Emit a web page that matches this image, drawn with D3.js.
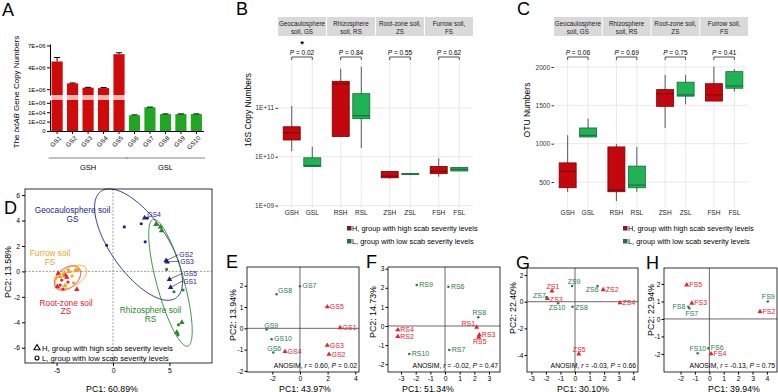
<!DOCTYPE html>
<html>
<head>
<meta charset="utf-8">
<script src="https://cdn.jsdelivr.net/npm/d3@7"></script>
<style>
  body { margin: 0; background: #fff; }
  svg { font-family: "Liberation Sans", Arial, sans-serif; }
</style>
</head>
<body>
<script>
// ---- data ----
// A: txtAB gene copies per sample
const samplesA = ['GS1', 'GS2', 'GS3', 'GS4', 'GS5', 'GS6', 'GS7', 'GS8', 'GS9', 'GS10'];
const txtabMean = [4.8e6, 1.8e6, 1.2e6, 1.15e6, 5.8e6, 2.3e3, 1.1e5, 4.0e3, 4.0e3, 4.0e3];
const txtabErr = [0.55e6, 0.05e6, 0.05e6, 0.08e6, 0.2e6, 400, 1.2e4, 400, 400, 400];

// B / C: box stats [lower whisker, Q1, median, Q3, upper whisker]
const soilGroups = ['GS', 'RS', 'ZS', 'FS'];
const levels = ['H', 'L'];
const stripLabels = [['Geocaulosphere', 'soil, GS'], ['Rhizosphere', 'soil, RS'], ['Root-zone soil,', 'ZS'], ['Furrow soil,', 'FS']];
const boxCats = ['GSH', 'GSL', 'RSH', 'RSL', 'ZSH', 'ZSL', 'FSH', 'FSL'];
const copies16S = [
  [1.3e10, 2.2e10, 3.1e10, 4.1e10, 1.1e11],
  [6.3e9, 6.3e9, 6.6e9, 9.5e9, 1.6e10],
  [2.6e10, 2.6e10, 3.1e11, 3.5e11, 6.3e11],
  [1.5e10, 6.0e10, 6.9e10, 1.95e11, 6.9e11],
  [3.55e9, 3.7e9, 4.0e9, 5.0e9, 5.0e9],
  [4.4e9, 4.4e9, 4.45e9, 4.5e9, 4.5e9],
  [3.9e9, 4.5e9, 5.0e9, 6.3e9, 9.3e9],
  [5.1e9, 5.1e9, 5.55e9, 6.0e9, 6.0e9]
];
const otuNumbers = [
  [370, 426, 640, 750, 1110],
  [1088, 1088, 1110, 1205, 1327],
  [253, 374, 396, 958, 995],
  [374, 426, 461, 708, 958],
  [1205, 1487, 1652, 1705, 1896],
  [1513, 1620, 1636, 1802, 1896],
  [1556, 1556, 1636, 1782, 2004],
  [1680, 1723, 1753, 1939, 1974]
];
const pvalB = ['0.02', '0.84', '0.55', '0.62'];
const pvalC = ['0.06', '0.69', '0.75', '0.41'];
const legendText = ['H, group with high scab severity levels', 'L, group with low scab severity levels'];

// D: PCA of all soils
const pcaD = [
  // GS
  {g: 'GS', l: 'H', x: 2.8, y: 4.2, id: 'GS4'}, {g: 'GS', l: 'H', x: 4.7, y: 0.85, id: 'GS2'},
  {g: 'GS', l: 'H', x: 4.8, y: 0.75, id: 'GS3'}, {g: 'GS', l: 'H', x: 5.0, y: -0.62, id: 'GS5'},
  {g: 'GS', l: 'H', x: 5.1, y: -1.25, id: 'GS1'},
  {g: 'GS', l: 'L', x: -0.56, y: 2.05}, {g: 'GS', l: 'L', x: 1.0, y: 3.5}, {g: 'GS', l: 'L', x: 2.5, y: 3.75},
  {g: 'GS', l: 'L', x: 2.85, y: 2.33}, {g: 'GS', l: 'L', x: 3.05, y: 4.2},
  // RS
  {g: 'RS', l: 'H', x: 3.8, y: 3.7}, {g: 'RS', l: 'H', x: 4.2, y: 3.5}, {g: 'RS', l: 'H', x: 4.3, y: 3.2},
  {g: 'RS', l: 'H', x: 6.1, y: -4.0}, {g: 'RS', l: 'H', x: 5.65, y: -4.8},
  {g: 'RS', l: 'L', x: 4.75, y: 0.16}, {g: 'RS', l: 'L', x: 5.4, y: -1.6}, {g: 'RS', l: 'L', x: 6.2, y: -1.46},
  {g: 'RS', l: 'L', x: 5.8, y: -4.2}, {g: 'RS', l: 'L', x: 5.75, y: -5.0},
  // ZS
  {g: 'ZS', l: 'H', x: -4.85, y: -0.15}, {g: 'ZS', l: 'H', x: -4.25, y: -0.28}, {g: 'ZS', l: 'H', x: -4.1, y: -0.46},
  {g: 'ZS', l: 'H', x: -4.93, y: -1.2}, {g: 'ZS', l: 'H', x: -3.21, y: -1.41},
  {g: 'ZS', l: 'L', x: -4.54, y: -0.68}, {g: 'ZS', l: 'L', x: -3.28, y: 0.11}, {g: 'ZS', l: 'L', x: -3.99, y: -0.83},
  {g: 'ZS', l: 'L', x: -4.69, y: -1.07}, {g: 'ZS', l: 'L', x: -4.43, y: -1.38},
  // FS
  {g: 'FS', l: 'H', x: -3.07, y: 0.15}, {g: 'FS', l: 'H', x: -4.25, y: -1.12}, {g: 'FS', l: 'H', x: -3.9, y: 0.0},
  {g: 'FS', l: 'H', x: -4.7, y: -0.4}, {g: 'FS', l: 'H', x: -3.3, y: 0.05},
  {g: 'FS', l: 'L', x: -3.96, y: 0.11}, {g: 'FS', l: 'L', x: -3.63, y: -0.36}, {g: 'FS', l: 'L', x: -5.05, y: -0.52},
  {g: 'FS', l: 'L', x: -4.4, y: -0.2}, {g: 'FS', l: 'L', x: -3.5, y: -0.9}
];
const ellipsesD = [
  {g: 'GS', cx: 2.26, cy: 2.11, rx: 5.36, ry: 2.37, angle: -50},
  {g: 'RS', cx: 5.09, cy: -0.89, rx: 5.21, ry: 1.2, angle: -72.7},
  {g: 'ZS', cx: -4.03, cy: -0.52, rx: 1.28, ry: 0.8, angle: 32},
  {g: 'FS', cx: -3.72, cy: -0.44, rx: 1.5, ry: 0.75, angle: 25}
];
const groupNamesD = [
  {g: 'GS', lines: ['Geocaulosphere soil', 'GS'], x: -3.59, y: 4.59},
  {g: 'FS', lines: ['Furrow soil', 'FS'], x: -5.58, y: 1.2},
  {g: 'ZS', lines: ['Root-zone soil', 'ZS'], x: -4.16, y: -2.68},
  {g: 'RS', lines: ['Rhizosphere soil', 'RS'], x: 3.32, y: -3.27}
];

// E-H: per-soil PCA
const pcaE = [
  {id: 'GS1', x: 2.9, y: 0.03}, {id: 'GS2', x: 2.1, y: -1.22}, {id: 'GS3', x: 1.98, y: -0.8},
  {id: 'GS4', x: -1.08, y: -1.09}, {id: 'GS5', x: 1.98, y: 1.01}, {id: 'GS6', x: -1.93, y: -1.13},
  {id: 'GS7', x: 0.0, y: 1.98}, {id: 'GS8', x: -1.69, y: 1.6}, {id: 'GS9', x: -2.41, y: -0.05},
  {id: 'GS10', x: -2.05, y: -0.51}
];
const pcaF = [
  {id: 'RS1', x: 2.16, y: -0.07}, {id: 'RS2', x: -3.22, y: -0.55}, {id: 'RS3', x: 2.34, y: -0.47},
  {id: 'RS4', x: -3.22, y: -0.2}, {id: 'RS5', x: 2.3, y: -0.59}, {id: 'RS6', x: 0.23, y: 2.06},
  {id: 'RS7', x: 0.29, y: -1.26}, {id: 'RS8', x: 2.27, y: 0.46}, {id: 'RS9', x: -1.93, y: 2.15},
  {id: 'RS10', x: -2.44, y: -1.47}
];
const pcaG = [
  {id: 'ZS1', x: -1.58, y: 0.8}, {id: 'ZS2', x: 1.94, y: 0.9}, {id: 'ZS3', x: -1.9, y: 0.23},
  {id: 'ZS4', x: 3.09, y: -0.08}, {id: 'ZS5', x: 0.26, y: -3.92}, {id: 'ZS6', x: 1.55, y: 1.18},
  {id: 'ZS7', x: -1.97, y: 0.33}, {id: 'ZS8', x: -0.17, y: -0.37}, {id: 'ZS9', x: -0.2, y: 1.18},
  {id: 'ZS10', x: -1.16, y: -0.12}
];
const pcaH = [
  {id: 'FS2', x: 3.52, y: 0.42}, {id: 'FS3', x: -1.22, y: 0.9}, {id: 'FS4', x: 0.12, y: -1.99},
  {id: 'FS5', x: -1.57, y: 1.94}, {id: 'FS6', x: -0.07, y: -1.67}, {id: 'FS7', x: -1.39, y: 0.61},
  {id: 'FS8', x: -1.46, y: 0.7}, {id: 'FS9', x: 4.06, y: 1.0}, {id: 'FS10', x: -0.81, y: -1.96}
];
const anosim = [['0.60', '0.02'], ['-0.02', '0.47'], ['-0.03', '0.66'], ['-0.13', '0.75']];
const pcTitles = [['43.97', '13.94'], ['51.34', '14.73'], ['30.10', '22.40'], ['39.94', '22.94']];

// ---- drawing ----
const svg = d3.select('body').append('svg').attr('width', 778).attr('height', 392);
const redA = '#cf0a0a', greenA = '#22a522';
const boxFill = {H: '#c3070e', L: '#1fb356'}, boxStroke = {H: '#7a0000', L: '#136b36'};
const legendSq = {H: '#7b1f24', L: '#2e6b4a'};
const colD = {GS: '#22228f', RS: '#2a862a', ZS: '#e8202a', FS: '#f5a31a'};
const redP = '#e8232b', greenP = '#2b7a4b';

const fmtE = d => {
  if (d <= 1) return '0';
  const e = Math.floor(Math.log10(d) + 1e-9);
  return Math.round(d / Math.pow(10, e)) + 'E+' + String(e).padStart(2, '0');
};
const plain = d => String(d);   // hyphen minus, like the original
const styleAxis = (g, size, col) => {
  g.selectAll('text').attr('font-size', size).attr('fill', col || '#000').attr('font-family', null);
  g.selectAll('line').attr('stroke', col || '#000');
  g.select('.domain').attr('stroke', col || '#000');
};
const letter = (t, x, y) => svg.append('text').attr('x', x).attr('y', y).attr('font-size', 18).text(t);

// ---------- A ----------
letter('A', 2, 16);
const xA = d3.scaleBand().domain(samplesA).range([50, 203.5]).paddingInner(0.28).paddingOuter(0.1);
const yTop = d3.scaleLinear().domain([0.2e6, 7.2e6]).range([95, 44]);
const yBot = d3.scaleLog().domain([1, 4e6]).range([131, 100]);
const gA = svg.append('g');
samplesA.forEach((s, i) => {
  const v = txtabMean[i], e = txtabErr[i], x = xA(s), w = xA.bandwidth(), c = x + w / 2;
  if (v > 1e6) {
    gA.append('rect').attr('x', x).attr('y', yTop(v)).attr('width', w).attr('height', yTop.range()[0] - yTop(v)).attr('fill', redA);
    gA.append('rect').attr('x', x).attr('y', yTop.range()[0]).attr('width', w).attr('height', yBot.range()[1] - yTop.range()[0]).attr('fill', '#f3b4b4');
    gA.append('rect').attr('x', x).attr('y', yBot.range()[1]).attr('width', w).attr('height', yBot.range()[0] - yBot.range()[1]).attr('fill', redA);
    gA.append('line').attr('x1', c).attr('x2', c).attr('y1', yTop(v)).attr('y2', yTop(v + e)).attr('stroke', '#000');
    gA.append('line').attr('x1', c - 3).attr('x2', c + 3).attr('y1', yTop(v + e)).attr('y2', yTop(v + e)).attr('stroke', '#000');
  } else {
    gA.append('rect').attr('x', x).attr('y', yBot(v)).attr('width', w).attr('height', yBot.range()[0] - yBot(v)).attr('fill', greenA);
    gA.append('line').attr('x1', c).attr('x2', c).attr('y1', yBot(v)).attr('y2', yBot(v + e)).attr('stroke', '#000');
    gA.append('line').attr('x1', c - 3).attr('x2', c + 3).attr('y1', yBot(v + e)).attr('y2', yBot(v + e)).attr('stroke', '#000');
  }
});
const axTop = gA.append('g').attr('transform', 'translate(50,0)')
  .call(d3.axisLeft(yTop).tickValues([1e6, 4e6, 7e6]).tickFormat(fmtE).tickSize(3).tickSizeOuter(0).tickPadding(1.5));
styleAxis(axTop, 6);
const axBot = gA.append('g').attr('transform', 'translate(50,0)')
  .call(d3.axisLeft(yBot).tickValues([1, 1e2, 1e4, 1e6]).tickFormat(fmtE).tickSize(3).tickSizeOuter(0).tickPadding(1.5));
styleAxis(axBot, 6);
const axXA = gA.append('g').attr('transform', 'translate(0,131)')
  .call(d3.axisBottom(xA).tickFormat('').tickSize(3).tickSizeOuter(0));
styleAxis(axXA, 6);
gA.selectAll('text.xs').data(samplesA).join('text').attr('class', 'xs')
  .attr('transform', d => `translate(${xA(d) + xA.bandwidth() / 2 + 3},137) rotate(-45)`)
  .attr('text-anchor', 'end').attr('dy', '0.35em').attr('font-size', 6.3).text(d => d);
[['GSH', 'GS1', 'GS5'], ['GSL', 'GS6', 'GS10']].forEach(([lab, a, b]) => {
  const x1 = xA(a) - 3, x2 = xA(b) + xA.bandwidth() + 3;
  gA.append('line').attr('x1', x1).attr('x2', x2).attr('y1', 158).attr('y2', 158).attr('stroke', '#666').attr('stroke-width', 0.8);
  gA.append('text').attr('x', (x1 + x2) / 2).attr('y', 170).attr('text-anchor', 'middle').attr('font-size', 7.5).text(lab);
});
gA.append('text').attr('transform', 'translate(19,92) rotate(-90)').attr('text-anchor', 'middle').attr('font-size', 8)
  .call(t => { t.append('tspan').text('The '); t.append('tspan').attr('font-style', 'italic').text('txtAB'); t.append('tspan').text(' Gene Copy Numbers'); });

// ---------- B & C ----------
function boxPanel(o) {
  const g = svg.append('g');
  const top = 60, bot = 208;
  const fx = d3.scaleBand().domain(soilGroups).range([o.x0, o.x1]).paddingInner(0.02);
  const lx = d3.scalePoint().domain(levels).range([0, fx.bandwidth()]).padding(0.667);
  const cx = c => fx(c.slice(0, 2)) + lx(c[2]);
  const y = o.y;
  g.selectAll('line.hg').data(o.ticks).join('line').attr('class', 'hg')
    .attr('x1', o.x0).attr('x2', o.x1).attr('y1', d => y(d)).attr('y2', d => y(d)).attr('stroke', '#e3e3e3').attr('stroke-width', 0.8);
  g.selectAll('line.vg').data(boxCats).join('line').attr('class', 'vg')
    .attr('x1', cx).attr('x2', cx).attr('y1', top).attr('y2', bot).attr('stroke', '#e3e3e3').attr('stroke-width', 0.8);
  soilGroups.forEach((s, i) => {
    g.append('rect').attr('x', fx(s)).attr('y', 17).attr('width', fx.bandwidth()).attr('height', 19).attr('fill', '#d9d9d9');
    stripLabels[i].forEach((t, j) => g.append('text').attr('x', fx(s) + fx.bandwidth() / 2).attr('y', 25.5 + j * 8)
      .attr('text-anchor', 'middle').attr('font-size', 6.3).attr('fill', '#1a1a1a').text(t));
    const xa = cx(s + 'H'), xb = cx(s + 'L'), xm = (xa + xb) / 2;
    g.append('path').attr('d', `M${xa},60V57H${xb}V60`).attr('fill', 'none').attr('stroke', '#222').attr('stroke-width', 0.8);
    g.append('text').attr('x', xm).attr('y', 54.5).attr('text-anchor', 'middle').attr('font-size', 6.5)
      .call(t => { t.append('tspan').attr('font-style', 'italic').text('P'); t.append('tspan').text(' = ' + o.p[i]); });
    if (o.star && o.star[i]) g.append('text').attr('x', xm).attr('y', 46.5).attr('text-anchor', 'middle').attr('font-size', 9.5).attr('font-weight', 'bold').text('*');
  });
  const bw = 17;
  boxCats.forEach((c, i) => {
    const [lo, q1, md, q3, hi] = o.data[i], x = cx(c), l = c[2];
    g.append('line').attr('x1', x).attr('x2', x).attr('y1', y(lo)).attr('y2', y(hi)).attr('stroke', '#333').attr('stroke-width', 0.8);
    g.append('rect').attr('x', x - bw / 2).attr('y', y(q3)).attr('width', bw).attr('height', Math.max(1, y(q1) - y(q3)))
      .attr('fill', boxFill[l]).attr('stroke', boxStroke[l]).attr('stroke-width', 0.8);
    g.append('line').attr('x1', x - bw / 2).attr('x2', x + bw / 2).attr('y1', y(md)).attr('y2', y(md)).attr('stroke', boxStroke[l]).attr('stroke-width', 1);
  });
  const ay = g.append('g').attr('transform', `translate(${o.x0},0)`)
    .call(d3.axisLeft(y).tickValues(o.ticks).tickFormat(o.fmt).tickSize(2.5).tickPadding(1.5));
  ay.select('.domain').remove();
  styleAxis(ay, 6.5, '#333');
  g.selectAll('text.xl').data(boxCats).join('text').attr('class', 'xl').attr('x', cx).attr('y', 214.5)
    .attr('text-anchor', 'middle').attr('font-size', 6.5).attr('fill', '#222').text(d => d);
  g.append('text').attr('transform', `translate(${o.titleX},110) rotate(-90)`).attr('text-anchor', 'middle').attr('font-size', 8.5).text(o.title);
  levels.forEach((l, j) => {
    g.append('rect').attr('x', o.legX).attr('y', 226 + j * 13).attr('width', 4.5).attr('height', 4.5).attr('fill', legendSq[l]);
    g.append('text').attr('x', o.legX + 5).attr('y', 231 + j * 13).attr('font-size', 7.4).text(legendText[j]);
  });
}
letter('B', 236, 15);
boxPanel({x0: 278, x1: 473, y: d3.scaleLog().domain([Math.pow(10, 8.95), Math.pow(10, 11.98)]).range([208, 60]),
  ticks: [1e9, 1e10, 1e11], fmt: fmtE, data: copies16S, p: pvalB, star: [true, false, false, false],
  title: '16S Copy Numbers', titleX: 251, legX: 347});
letter('C', 517, 15);
boxPanel({x0: 554, x1: 748, y: d3.scaleLinear().domain([162, 2091]).range([208, 60]),
  ticks: [500, 1000, 1500, 2000], fmt: d3.format('d'), data: otuNumbers, p: pvalC,
  title: 'OTU Numbers', titleX: 530, legX: 623});

// ---------- D ----------
letter('D', 4, 214);
const xD = d3.scaleLinear().domain([-7.8, 8.77]).range([25, 212]);
const yD = d3.scaleLinear().domain([-7.2, 6.48]).range([363, 189]);
const gD = svg.append('g');
gD.append('line').attr('x1', xD(0)).attr('x2', xD(0)).attr('y1', 189).attr('y2', 363).attr('stroke', '#777').attr('stroke-width', 0.7).attr('stroke-dasharray', '2,1.5');
gD.append('line').attr('x1', 25).attr('x2', 212).attr('y1', yD(0)).attr('y2', yD(0)).attr('stroke', '#777').attr('stroke-width', 0.7).attr('stroke-dasharray', '2,1.5');
const ellipsePts = e => d3.range(0, 2 * Math.PI + 0.02, Math.PI / 72).map(t => {
  const a = e.angle * Math.PI / 180;
  return [xD(e.cx + e.rx * Math.cos(t) * Math.cos(a) - e.ry * Math.sin(t) * Math.sin(a)),
          yD(e.cy + e.rx * Math.cos(t) * Math.sin(a) + e.ry * Math.sin(t) * Math.cos(a))];
});
gD.selectAll('path.ell').data(ellipsesD).join('path').attr('class', 'ell')
  .attr('d', d => d3.line()(ellipsePts(d))).attr('fill', 'none').attr('stroke', d => colD[d.g]).attr('stroke-width', 0.9);
const tri = d3.symbol(d3.symbolTriangle, 13), dot = d3.symbol(d3.symbolCircle, 8);
gD.selectAll('path.pt').data(pcaD).join('path').attr('class', 'pt')
  .attr('transform', d => `translate(${xD(d.x)},${yD(d.y)})`).attr('d', d => (d.l === 'H' ? tri : dot)())
  .attr('fill', d => colD[d.g]);
const gsLab = {GS4: [2.6, -1, false], GS2: [13.3, -3.4, true], GS3: [13, 1.8, true], GS5: [14, -3.5, true], GS1: [12.6, -3.6, true]};
pcaD.filter(d => d.id).forEach(d => {
  const [dx, dy, lead] = gsLab[d.id], px = xD(d.x), py = yD(d.y);
  if (lead) gD.append('line').attr('x1', px).attr('y1', py).attr('x2', px + dx - 1).attr('y2', py + dy - 2.5).attr('stroke', '#111').attr('stroke-width', 0.6);
  gD.append('text').attr('x', px + dx).attr('y', py + dy).attr('font-size', 6.8).attr('fill', colD.GS).text(d.id);
});
groupNamesD.forEach(n => n.lines.forEach((t, j) => gD.append('text').attr('x', xD(n.x)).attr('y', yD(n.y) + j * 8.5)
  .attr('text-anchor', 'middle').attr('font-size', 8.3).attr('fill', colD[n.g]).text(t)));
gD.append('rect').attr('x', 25).attr('y', 189).attr('width', 187).attr('height', 174).attr('fill', 'none').attr('stroke', '#000').attr('stroke-width', 0.8);
const axDx = gD.append('g').attr('transform', 'translate(0,363)').call(d3.axisBottom(xD).tickValues([-5, 0, 5]).tickFormat(plain).tickSize(3).tickPadding(2));
axDx.select('.domain').remove(); styleAxis(axDx, 6.8);
const axDy = gD.append('g').attr('transform', 'translate(25,0)').call(d3.axisLeft(yD).tickValues([-6, -4, -2, 0, 2, 4, 6]).tickFormat(plain).tickSize(3).tickPadding(2));
axDy.select('.domain').remove(); styleAxis(axDy, 6.8);
['H', 'L'].forEach((l, j) => {
  const yy = 348 + j * 10;
  if (l === 'H') gD.append('path').attr('transform', `translate(37,${yy})`).attr('d', d3.symbol(d3.symbolTriangle, 16)()).attr('fill', 'none').attr('stroke', '#000').attr('stroke-width', 1.1);
  else gD.append('circle').attr('cx', 37).attr('cy', yy).attr('r', 2).attr('fill', 'none').attr('stroke', '#000').attr('stroke-width', 1.1);
  gD.append('text').attr('x', 42).attr('y', yy + 2.8).attr('font-size', 7.7).text(legendText[j]);
});
gD.append('text').attr('x', 112).attr('y', 391.5).attr('text-anchor', 'middle').attr('font-size', 8.8).text('PC1: 60.89%');
gD.append('text').attr('transform', 'translate(11,272) rotate(-90)').attr('text-anchor', 'middle').attr('font-size', 8.8).text('PC2: 13.58%');

// ---------- E-H ----------
const nudge = {
  GS9: [-2.4, -1.3, 'start'], GS6: [1, -1.6, 'middle'], GS8: [1.5, -1, 'start'],
  RS8: [1, -2.2, 'middle'], RS1: [-1.5, -1, 'end'], RS5: [1, 7, 'middle'],
  ZS9: [2, -1.8, 'middle'], ZS1: [1, -2.2, 'middle'], ZS6: [1, 6, 'end'], ZS7: [-0.5, 1, 'end'],
  ZS3: [2.5, 3.4, 'start'], ZS10: [-1, 7, 'middle'], ZS8: [2.5, 3.3, 'start'], ZS5: [0.5, -2.5, 'middle'],
  FS8: [-3, 2, 'end'], FS7: [2.5, 7.7, 'middle'], FS9: [0.5, -2.5, 'middle'], FS10: [8.5, -2.3, 'end']
};
function pcaPanel(o) {
  const g = svg.append('g');
  const x = d3.scaleLinear().domain(o.xDom).range([o.x0, o.x1]);
  const y = d3.scaleLinear().domain(o.yDom).range([o.y1, o.y0]);
  letter(o.letter, o.lx, o.y0 + 1);
  g.append('line').attr('x1', x(0)).attr('x2', x(0)).attr('y1', o.y0).attr('y2', o.y1).attr('stroke', '#444').attr('stroke-width', 0.8);
  g.append('line').attr('x1', o.x0).attr('x2', o.x1).attr('y1', y(0)).attr('y2', y(0)).attr('stroke', '#444').attr('stroke-width', 0.8);
  g.append('rect').attr('x', o.x0).attr('y', o.y0).attr('width', o.x1 - o.x0).attr('height', o.y1 - o.y0).attr('fill', 'none').attr('stroke', '#000').attr('stroke-width', 0.8);
  const ax = g.append('g').attr('transform', `translate(0,${o.y1})`).call(d3.axisBottom(x).tickValues(o.xTicks).tickFormat(plain).tickSize(2.5).tickPadding(2));
  ax.select('.domain').remove(); styleAxis(ax, 6.8);
  const ay = g.append('g').attr('transform', `translate(${o.x0},0)`).call(d3.axisLeft(y).tickValues(o.yTicks).tickFormat(plain).tickSize(2.5).tickPadding(1.2));
  ay.select('.domain').remove(); styleAxis(ay, 6.6);
  const hi = d => +d.id.replace(/\D/g, '') <= 5;
  g.selectAll('path.pt').data(o.pts).join('path').attr('class', 'pt')
    .attr('transform', d => `translate(${x(d.x)},${y(d.y)})`).attr('d', d => (hi(d) ? d3.symbol(d3.symbolTriangle, 11) : d3.symbol(d3.symbolCircle, 5))())
    .attr('fill', d => hi(d) ? redP : greenP);
  g.selectAll('text.lb').data(o.pts).join('text').attr('class', 'lb')
    .attr('x', d => x(d.x) + (nudge[d.id] || [2.5])[0]).attr('y', d => y(d.y) + (nudge[d.id] || [0, 2.2])[1])
    .attr('text-anchor', d => (nudge[d.id] || [0, 0, 'start'])[2]).attr('font-size', 7)
    .attr('fill', d => hi(d) ? redP : greenP).text(d => d.id);
  g.append('text').attr('x', o.x1 - 2).attr('y', o.y1 - 4).attr('text-anchor', 'end').attr('font-size', 6.8)
    .call(t => { t.append('tspan').text('ANOSIM, '); t.append('tspan').attr('font-style', 'italic').text('r');
      t.append('tspan').text(' = ' + o.anosim[0] + ', '); t.append('tspan').attr('font-style', 'italic').text('P');
      t.append('tspan').text(' = ' + o.anosim[1]); });
  g.append('text').attr('x', o.t1x).attr('y', 391.5).attr('text-anchor', 'middle').attr('font-size', 8.8).text('PC1: ' + o.titles[0] + '%');
  g.append('text').attr('transform', `translate(${o.t2x},${o.t2y}) rotate(-90)`).attr('text-anchor', 'middle').attr('font-size', 8.8).text('PC2: ' + o.titles[1] + '%');
}
pcaPanel({letter: 'E', lx: 226, x0: 247, x1: 359, y0: 267, y1: 372, xDom: [-3.83, 4.27], yDom: [-2.05, 2.88],
  xTicks: [-2, 0, 2, 4], yTicks: [-2, -1, 0, 1, 2], pts: pcaE, anosim: anosim[0], titles: pcTitles[0], t1x: 305, t2x: 236, t2y: 315});
pcaPanel({letter: 'F', lx: 366, x0: 388, x1: 500, y0: 267, y1: 372, xDom: [-3.89, 3.75], yDom: [-2.41, 3.09],
  xTicks: [-3, -2, -1, 0, 1, 2, 3], yTicks: [-2, -1, 0, 1, 2, 3], pts: pcaF, anosim: anosim[1], titles: pcTitles[1], t1x: 428, t2x: 376, t2y: 312});
pcaPanel({letter: 'G', lx: 516, x0: 527, x1: 638, y0: 268, y1: 372, xDom: [-3.3, 4.33], yDom: [-5.27, 2.53],
  xTicks: [-3, -2, -1, 0, 1, 2, 3, 4], yTicks: [-4, -2, 0, 2], pts: pcaG, anosim: anosim[2], titles: pcTitles[2], t1x: 583, t2x: 516, t2y: 308});
pcaPanel({letter: 'H', lx: 646, x0: 664, x1: 777, y0: 268, y1: 372, xDom: [-3.15, 4.7], yDom: [-3.03, 2.91],
  xTicks: [-2, -1, 0, 1, 2, 3, 4], yTicks: [-2, -1, 0, 1, 2], pts: pcaH, anosim: anosim[3], titles: pcTitles[3], t1x: 734, t2x: 654, t2y: 310});
</script>
</body>
</html>
